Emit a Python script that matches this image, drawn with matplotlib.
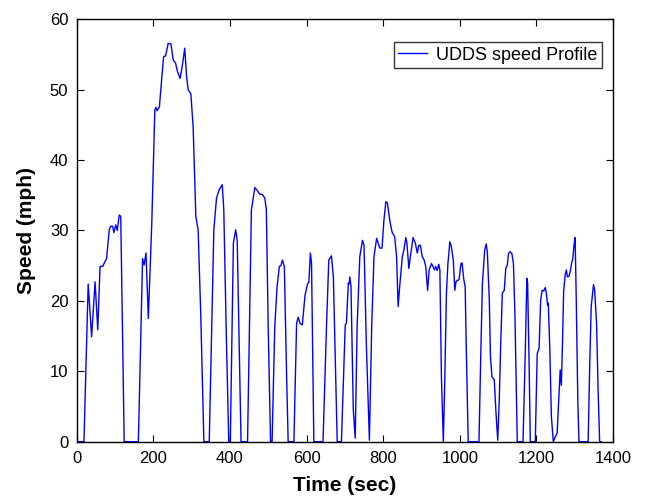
import matplotlib
matplotlib.use("Agg")
import matplotlib.pyplot as plt

plt.rcParams['font.family'] = ['Liberation Sans', 'DejaVu Sans']

time_s = [0, 19, 30, 39, 48, 55, 61, 68, 74, 78, 85, 89, 94, 97, 102, 106, 111, 115, 124,
          161, 172, 176, 181, 187, 196, 204, 207, 210, 216, 222, 227, 232, 239, 246, 252,
          258, 263, 270, 276, 282, 287, 291, 298, 304, 311, 317, 324, 332,
          346, 358, 365, 372, 380, 384, 391, 397, 401, 409, 415, 419, 429,
          446, 456, 465, 471, 477, 485, 491, 495, 500, 506, 510,
          517, 523, 529, 533, 537, 542, 548, 552, 567,
          574, 578, 583, 589, 596, 603, 606, 610, 613, 619, 643,
          652, 658, 665, 670, 676, 680, 691,
          701, 704, 709, 711, 713, 716, 722, 727, 732, 739, 746, 750, 756, 764,
          770, 776, 783, 787, 791, 797, 802, 807, 811, 817, 823, 830, 835, 839, 843,
          850, 854, 859, 862, 867, 871, 878, 884, 889, 893, 897, 902, 907, 911, 916,
          920, 926, 930, 934, 937, 941, 945, 948, 952, 957,
          961, 965, 969, 974, 978, 983, 987, 990, 993, 998, 1003, 1006, 1010, 1014, 1017, 1022,
          1050, 1055, 1059, 1065, 1069, 1072, 1077, 1080, 1084, 1090, 1094, 1099,
          1103, 1107, 1111, 1116, 1120, 1124, 1127, 1131, 1136, 1140, 1144, 1150,
          1165, 1171, 1175, 1177, 1181, 1184, 1197,
          1202, 1207, 1211, 1215, 1219, 1223, 1226, 1229, 1231, 1235, 1239, 1244,
          1250, 1254, 1259, 1262, 1265, 1268, 1271, 1275, 1278, 1281, 1285, 1289, 1292,
          1295, 1298, 1301, 1304, 1308, 1311, 1335,
          1339, 1343, 1349, 1352, 1357, 1361, 1365, 1369]
speed_mph = [0, 0, 22.4, 14.9, 22.7, 15.9, 24.9, 24.9, 25.6, 26.0, 30.1, 30.6, 30.6, 29.7, 30.8, 30.0, 32.2, 32.0, 0,
             0, 26.0, 25.1, 26.8, 17.5, 31.0, 47.1, 47.5, 47.0, 47.6, 51.6, 54.7, 54.8, 56.6, 56.5, 54.2,
             53.8, 52.6, 51.6, 53.5, 55.9, 51.8, 50.0, 49.4, 44.7, 32.0, 30.1, 17.8, 0,
             0, 30.1, 34.6, 35.8, 36.5, 32.9, 14.0, 0, 0, 28.2, 30.1, 28.6, 0,
             0, 32.9, 36.1, 35.7, 35.2, 35.1, 34.6, 33.0, 16.0, 0, 0,
             16.3, 22.0, 24.9, 25.0, 25.8, 24.9, 9.2, 0, 0,
             16.8, 17.7, 16.8, 16.6, 20.8, 22.5, 22.6, 26.8, 25.3, 0, 0,
             16.3, 25.8, 26.4, 23.4, 9.2, 0, 0,
             16.6, 16.8, 22.5, 22.4, 23.4, 22.0, 4.5, 0.5, 16.3, 26.3, 28.6, 27.9, 14.0, 0.2,
             16.3, 26.3, 28.9, 28.2, 27.5, 27.5, 31.5, 34.1, 33.9, 31.5, 29.8, 29.1, 26.3, 19.2, 22.0,
             26.3, 27.2, 29.0, 28.2, 24.6, 26.3, 29.0, 28.2, 26.8, 27.9, 27.9, 26.3, 25.8, 24.9, 21.5,
             24.4, 25.3, 24.9, 24.4, 24.9, 24.3, 25.2, 24.4, 9.2, 0,
             9.2, 21.0, 25.3, 28.4, 27.7, 25.8, 21.5, 22.7, 22.9, 23.0, 25.3, 25.4, 23.2, 22.0, 13.0, 0,
             0, 13.0, 22.5, 27.2, 28.1, 26.8, 20.1, 12.1, 9.2, 8.8, 4.5, 0.2,
             5.9, 14.4, 21.1, 21.5, 24.6, 25.1, 26.7, 27.0, 26.7, 25.3, 17.8, 0,
             0, 13.0, 23.2, 22.5, 10.7, 0, 0,
             12.5, 13.3, 20.1, 21.5, 21.4, 21.9, 21.1, 19.4, 19.7, 13.0, 3.6, 0,
             0.8, 1.2, 6.9, 10.2, 8.0, 14.0, 21.3, 23.7, 24.4, 23.4, 23.5, 24.4, 25.4,
             26.0, 27.9, 29.0, 20.1, 5.9, 0, 0,
             10.7, 19.2, 22.3, 21.5, 16.8, 7.3, 0, 0]

fig = plt.figure(figsize=(6.46, 4.96), dpi=100)
ax = fig.add_axes([0.1187, 0.1095, 0.8303, 0.8516])
ax.plot(time_s, speed_mph, color='#0000ff', linewidth=1.0, label='UDDS speed Profile')
ax.set_xlim(0, 1400)
ax.set_ylim(0, 60)
ax.set_xticks(range(0, 1401, 200))
ax.set_yticks(range(0, 61, 10))
ax.tick_params(direction='in', top=True, right=True, labelsize=12, length=5, width=0.8)
ax.tick_params(axis='x', pad=7)
ax.tick_params(axis='y', pad=6)
for s in ax.spines.values():
    s.set_linewidth(1.0)
ax.set_xlabel('Time (sec)', fontsize=15, fontweight='bold', labelpad=7)
ax.set_ylabel('Speed (mph)', fontsize=15, fontweight='bold', labelpad=10)
leg = ax.legend(loc='upper right', bbox_to_anchor=(0.9795, 0.946), borderaxespad=0,
                fontsize=13, frameon=True, fancybox=False, handlelength=1.6,
                handletextpad=0.5, borderpad=0.25)
leg.get_frame().set_edgecolor('black')
leg.get_frame().set_linewidth(1.0)
fig.savefig('out.png', dpi=100)
